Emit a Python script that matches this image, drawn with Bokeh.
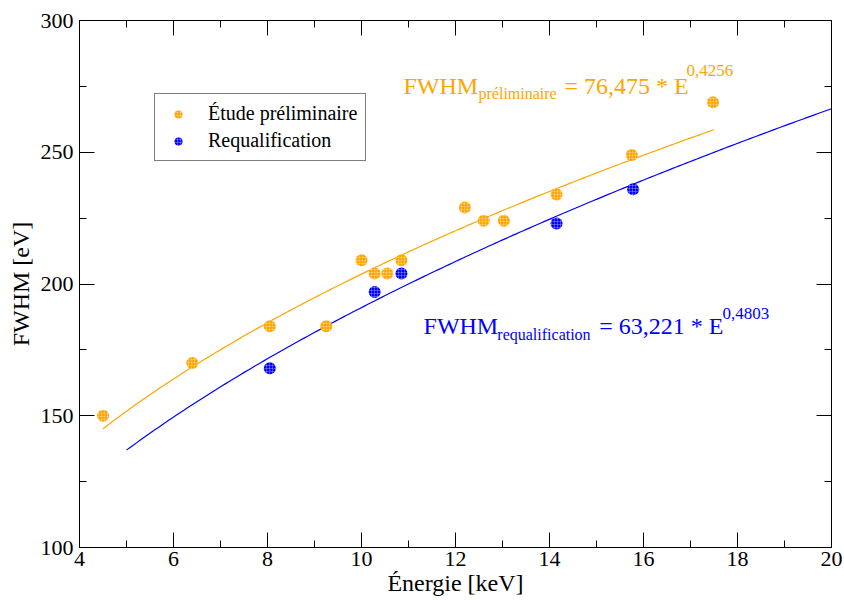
import numpy as np
from bokeh.plotting import figure
from bokeh.models import (Range1d, LinearAxis, SingleIntervalTicker, CustomJSTickFormatter,
                          Label, Legend, LegendItem, ColumnDataSource)
from bokeh.embed import file_html
from bokeh.resources import INLINE

# ---- data ----
prelim_E = [4.5, 6.4, 8.05, 9.25, 10.0, 10.28, 10.55, 10.85, 12.2, 12.6, 13.03, 14.15, 15.75, 17.48]
prelim_F = [150, 170, 184, 184, 209, 204, 204, 209, 229, 224, 224, 234, 249, 269]
requal_E = [8.05, 10.28, 10.85, 14.15, 15.78]
requal_F = [168, 197, 204, 223, 236]

# fit parameters shown on the chart
prelim_a, prelim_b, prelim_range = 76.475, 0.4256, (4.5, 17.5)
requal_a, requal_b, requal_range = 63.221, 0.4803, (5.0, 20.0)

FONT = "Liberation Serif"
ORANGE = "#FFA500"
BLUE = "#0000FF"

p = figure(width=844, height=600, output_backend="svg", toolbar_location=None,
           x_range=Range1d(4, 20), y_range=Range1d(100, 300),
           min_border_left=79, min_border_right=13, min_border_top=20, min_border_bottom=53)
p.xgrid.visible = False
p.ygrid.visible = False
p.outline_line_color = "black"
p.outline_line_width = 1

p.xaxis.ticker = SingleIntervalTicker(interval=2, num_minor_ticks=2)
p.yaxis.ticker = SingleIntervalTicker(interval=50, num_minor_ticks=2)

for ax in (p.xaxis[0], p.yaxis[0]):
    ax.major_tick_in = 15
    ax.major_tick_out = 0
    ax.minor_tick_in = 7
    ax.minor_tick_out = 0
    ax.major_tick_line_color = "black"
    ax.minor_tick_line_color = "black"
    ax.axis_line_color = "black"
    ax.major_label_text_font = FONT
    ax.major_label_text_font_size = "22px"
    ax.major_label_text_color = "black"
    ax.axis_label_text_font = FONT
    ax.axis_label_text_font_size = "24px"
    ax.axis_label_text_font_style = "normal"
    ax.axis_label_text_color = "black"

p.xaxis.axis_label = "Énergie [keV]"
p.yaxis.axis_label = "FWHM [eV]"
p.xaxis.major_label_standoff = 4
p.yaxis.major_label_standoff = 6
p.xaxis.axis_label_standoff = 1
p.yaxis.axis_label_standoff = 4

empty = CustomJSTickFormatter(code="return ''")
top = LinearAxis(ticker=SingleIntervalTicker(interval=2, num_minor_ticks=2), formatter=empty)
right = LinearAxis(ticker=SingleIntervalTicker(interval=50, num_minor_ticks=2), formatter=empty)
for ax in (top, right):
    ax.major_tick_in = 15
    ax.major_tick_out = 0
    ax.minor_tick_in = 7
    ax.minor_tick_out = 0
    ax.major_tick_line_color = "black"
    ax.minor_tick_line_color = "black"
    ax.axis_line_color = "black"
    ax.major_label_standoff = 0
    ax.major_label_text_font_size = "1px"
p.add_layout(top, "above")
p.add_layout(right, "right")

# fit curves
Ep = np.linspace(prelim_range[0], prelim_range[1], 200)
Er = np.linspace(requal_range[0], requal_range[1], 200)
p.line(Ep, prelim_a * Ep ** prelim_b, line_color=ORANGE, line_width=1.2)
p.line(Er, requal_a * Er ** requal_b, line_color=BLUE, line_width=1.2)

src_p = ColumnDataSource(dict(x=prelim_E, y=prelim_F))
src_r = ColumnDataSource(dict(x=requal_E, y=requal_F))
mk = dict(size=12, line_color=None, hatch_pattern="+", hatch_color="white",
          hatch_alpha=0.45, hatch_scale=3, hatch_weight=0.6)
rp = p.scatter("x", "y", source=src_p, fill_color=ORANGE, **mk)
rr = p.scatter("x", "y", source=src_r, fill_color=BLUE, **mk)

legend = Legend(items=[LegendItem(label="Étude préliminaire", renderers=[rp]),
                       LegendItem(label="Requalification", renderers=[rr])],
                location=(75, 386))
legend.label_text_font = FONT
legend.label_text_font_size = "20px"
legend.label_text_color = "black"
legend.glyph_width = 30
legend.glyph_height = 20
legend.label_height = 20
legend.label_standoff = 15
legend.spacing = 4
legend.padding = 8
legend.margin = 0
legend.border_line_color = "black"
legend.border_line_width = 1
legend.background_fill_alpha = 1
p.add_layout(legend, "center")

# annotations (rich text built from pieces)
def lab(x, y, t, color, size):
    p.add_layout(Label(x=x, y=y, text=t, text_color=color, text_font=FONT,
                       text_font_size=size, text_baseline="alphabetic", text_align="left"))

lab(10.894, 275.3, "FWHM", ORANGE, "24px")
lab(12.49, 272.3, "préliminaire", ORANGE, "16px")
lab(14.32, 275.3, "= 76,475 * E", ORANGE, "24px")
lab(16.915, 281.0, "0,4256", ORANGE, "17px")

lab(11.32, 183.9, "FWHM", BLUE, "24px")
lab(12.89, 180.8, "requalification", BLUE, "16px")
lab(15.06, 183.9, "= 63,221 * E", BLUE, "24px")
lab(17.68, 188.8, "0,4803", BLUE, "17px")

open("out.html", "w").write(file_html(p, INLINE))
